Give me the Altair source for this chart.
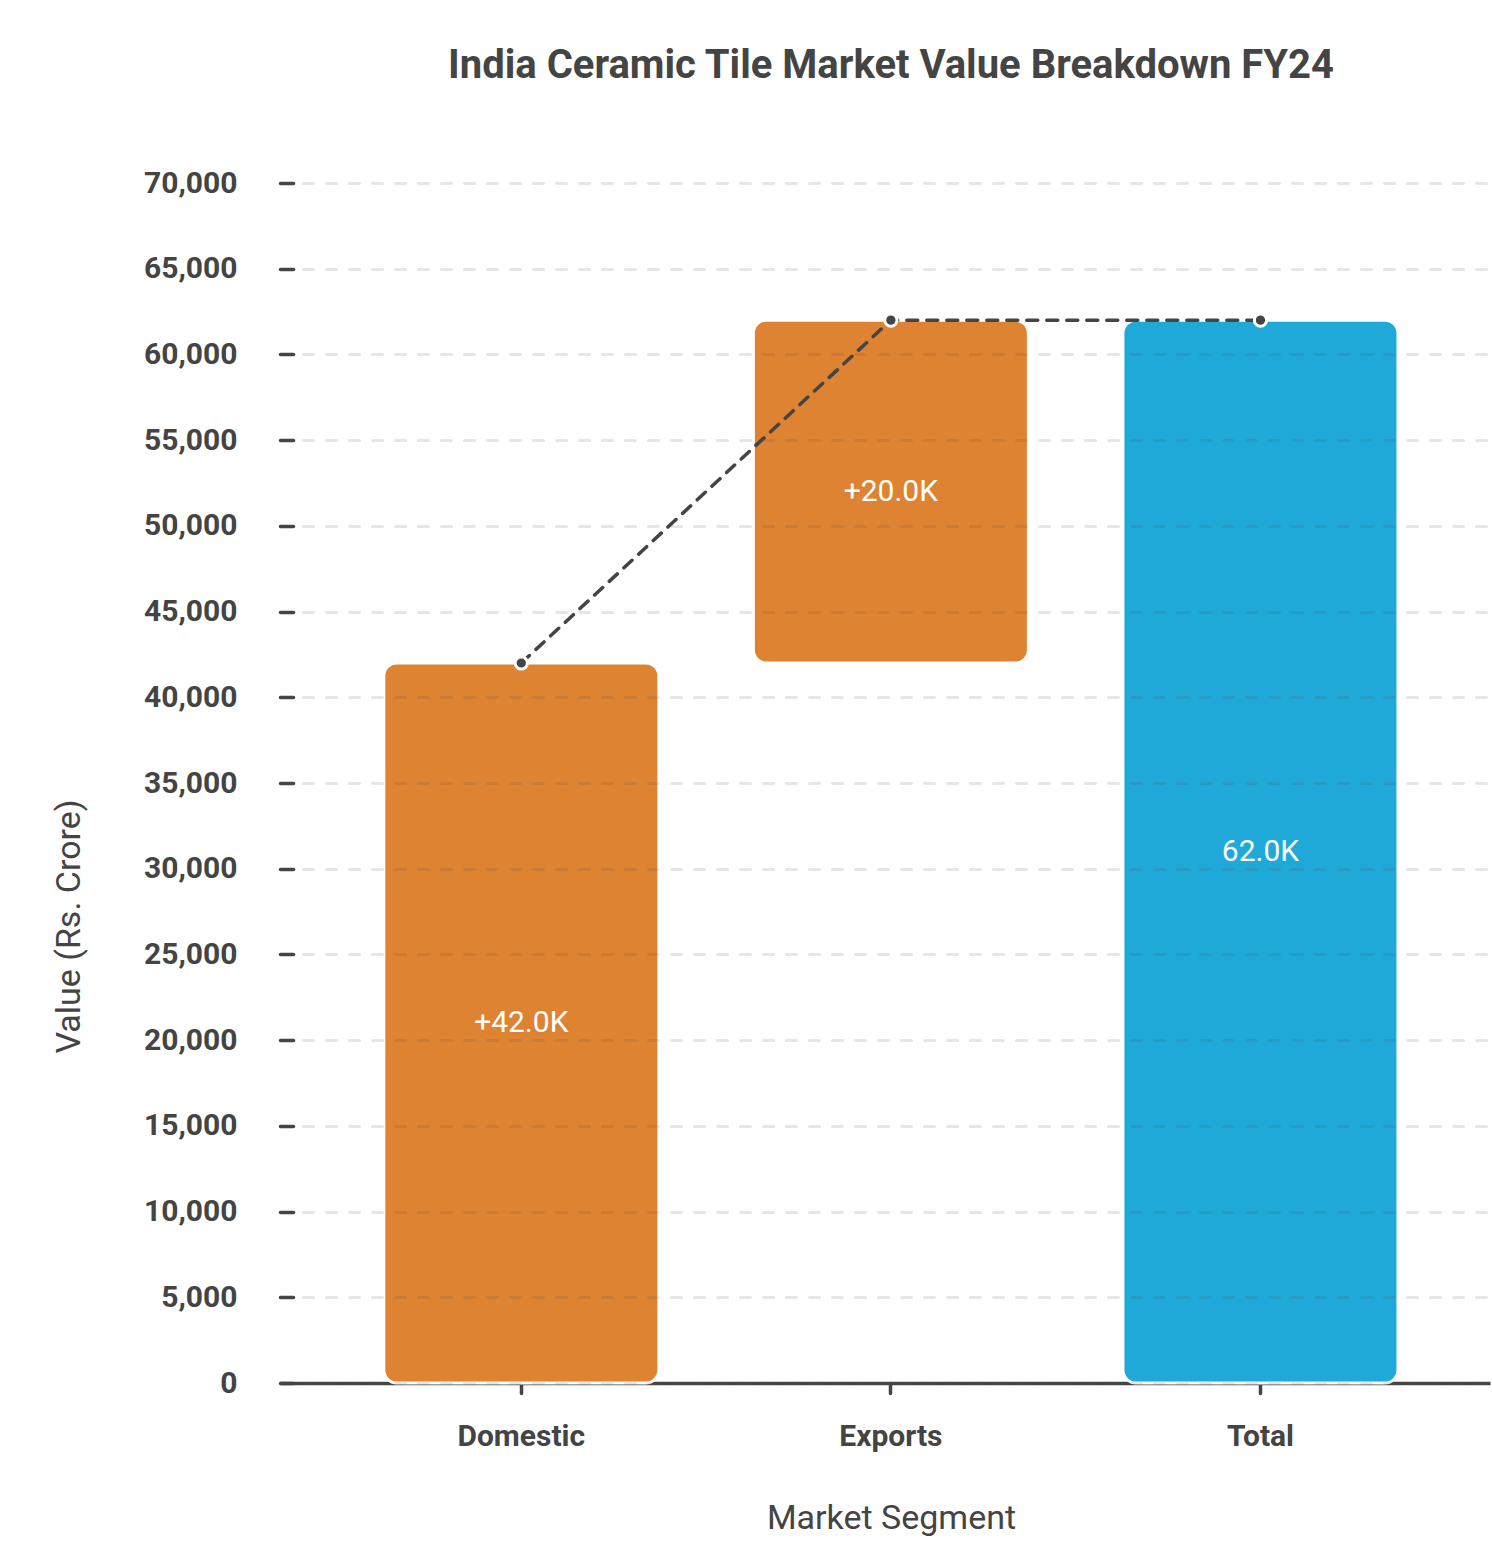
import altair as alt
import pandas as pd

# ---- data ----
categories = ["Domestic", "Exports", "Total"]
amounts = [42000, 20000, 62000]
kinds = ["delta", "delta", "total"]

rows = []
running = 0
for cat, amt, kind in zip(categories, amounts, kinds):
    if kind == "total":
        start, end = 0, amt
        label = f"{amt / 1000:.1f}K"
    else:
        start, end = running, running + amt
        running = end
        label = f"+{amt / 1000:.1f}K"
    rows.append(dict(segment=cat, start=start, end=end, mid=(start + end) / 2,
                     label=label, kind=kind))
df = pd.DataFrame(rows)

TEXT = "#444444"
FONT = "Roboto"

x_enc = alt.X(
    "segment:N", sort=categories,
    scale=alt.Scale(paddingInner=0.256, paddingOuter=0.265, align=0.53),
    axis=alt.Axis(
        title="Market Segment", labelAngle=0, labelFont=FONT, labelFontSize=30,
        labelFontWeight="bold", labelColor=TEXT, labelPadding=28,
        titleFont=FONT, titleFontSize=34, titleFontWeight="normal", titleColor=TEXT,
        titlePadding=50, titleX=611, domainColor=TEXT, domainWidth=3.5,
        tickColor=TEXT, tickWidth=3.5, tickSize=10, tickCap="round", grid=False,
    ),
)

y_scale = alt.Scale(domain=[0, 70000], nice=False)

bars = alt.Chart(df).mark_bar(cornerRadius=13, stroke="white", strokeWidth=3).encode(
    x=x_enc,
    y=alt.Y(
        "start:Q", scale=y_scale,
        axis=alt.Axis(
            title="Value (Rs. Crore)", tickCount=14, format=",d", domain=False,
            labelFont=FONT, labelFontSize=30, labelFontWeight="bold", labelColor=TEXT,
            labelPadding=43, offset=-13, tickSize=13, tickWidth=3.5, tickColor=TEXT,
            tickCap="round", grid=True, gridColor="#555555", gridOpacity=0.15,
            gridWidth=3, gridDash=[10, 13], gridCap="round", zindex=1,
            titleFont=FONT, titleFontSize=34, titleFontWeight="normal",
            titleColor=TEXT, titlePadding=57, titleY=743,
        ),
    ),
    y2="end:Q",
    color=alt.Color("kind:N", scale=alt.Scale(domain=["delta", "total"],
                                              range=["#DE8331", "#1EA9D8"]),
                    legend=None),
)

labels = alt.Chart(df).mark_text(font=FONT, fontSize=30, color="white",
                                 baseline="middle", align="center").encode(
    x=alt.X("segment:N", sort=categories),
    y=alt.Y("mid:Q", scale=y_scale),
    text="label:N",
)

connector = alt.Chart(df).mark_line(color=TEXT, strokeWidth=3.5, strokeDash=[11, 9],
                                    strokeCap="round").encode(
    x=alt.X("segment:N", sort=categories),
    y=alt.Y("end:Q", scale=y_scale),
)

dots = alt.Chart(df).mark_point(filled=True, size=150, color=TEXT, opacity=1,
                                stroke="white", strokeWidth=3).encode(
    x=alt.X("segment:N", sort=categories),
    y=alt.Y("end:Q", scale=y_scale),
)

chart = alt.layer(bars, labels, connector, dots).properties(
    width=1210, height=1200,
    title=alt.Title("India Ceramic Tile Market Value Breakdown FY24", font=FONT,
                    fontSize=40, fontWeight="bold", color=TEXT, anchor="middle",
                    baseline="alphabetic", offset=50, dx=6),
    autosize=alt.AutoSizeParams(type="none"),
    padding={"left": 280, "top": 183, "right": 2, "bottom": 169},
    background="white",
).configure_view(stroke=None)

chart.save("out.html", embed_options={"renderer": "svg", "actions": False})
